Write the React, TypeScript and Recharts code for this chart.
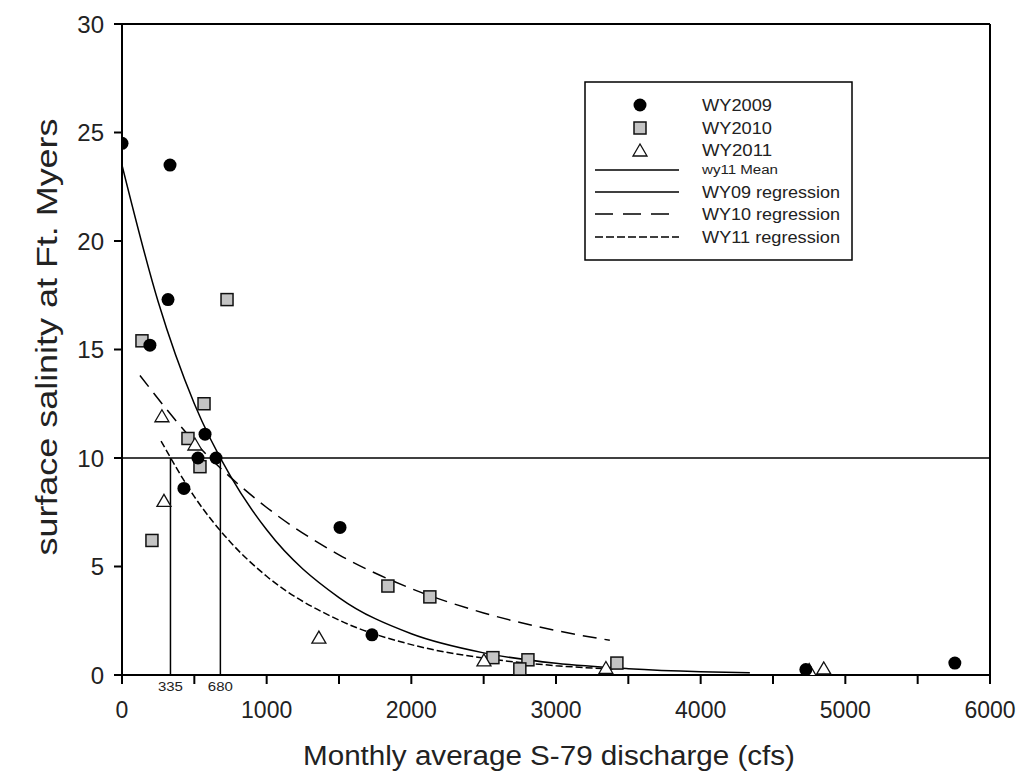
import React from "react";
import {
  ComposedChart,
  Scatter,
  Line,
  XAxis,
  YAxis,
  ReferenceLine,
  ReferenceDot,
  Label,
} from "recharts";

// observed monthly points
const wy2009 = [
  { x: 0, y: 24.5 },
  { x: 332, y: 23.5 },
  { x: 318, y: 17.3 },
  { x: 193, y: 15.2 },
  { x: 574, y: 11.1 },
  { x: 650, y: 10.0 },
  { x: 525, y: 10.0 },
  { x: 428, y: 8.6 },
  { x: 1507, y: 6.8 },
  { x: 1728, y: 1.85 },
  { x: 4727, y: 0.25 },
  { x: 5757, y: 0.55 },
];

const wy2010 = [
  { x: 138, y: 15.4 },
  { x: 726, y: 17.3 },
  { x: 567, y: 12.5 },
  { x: 456, y: 10.9 },
  { x: 539, y: 9.6 },
  { x: 207, y: 6.2 },
  { x: 1838, y: 4.1 },
  { x: 2128, y: 3.6 },
  { x: 2564, y: 0.8 },
  { x: 2806, y: 0.7 },
  { x: 2750, y: 0.28 },
  { x: 3421, y: 0.55 },
];

const wy2011 = [
  { x: 276, y: 11.9 },
  { x: 290, y: 8.0 },
  { x: 504, y: 10.6 },
  { x: 1361, y: 1.7 },
  { x: 2502, y: 0.65 },
  { x: 3345, y: 0.3 },
  { x: 4750, y: 0.2 },
  { x: 4851, y: 0.28 },
];

// regression curves
const wy09Reg = [
  { x: 0, y: 23.5 },
  { x: 250, y: 17.2 },
  { x: 500, y: 12.5 },
  { x: 750, y: 9.16 },
  { x: 1000, y: 6.69 },
  { x: 1500, y: 3.57 },
  { x: 2000, y: 1.9 },
  { x: 2500, y: 1.02 },
  { x: 3000, y: 0.54 },
  { x: 3500, y: 0.29 },
  { x: 4000, y: 0.15 },
  { x: 4340, y: 0.1 },
];

const wy10Reg = [
  { x: 124, y: 13.8 },
  { x: 500, y: 10.75 },
  { x: 1000, y: 7.72 },
  { x: 1500, y: 5.54 },
  { x: 2000, y: 3.98 },
  { x: 2500, y: 2.86 },
  { x: 3000, y: 2.05 },
  { x: 3372, y: 1.6 },
];

const wy11Reg = [
  { x: 270, y: 10.78 },
  { x: 500, y: 8.22 },
  { x: 750, y: 6.12 },
  { x: 1000, y: 4.55 },
  { x: 1500, y: 2.53 },
  { x: 2000, y: 1.4 },
  { x: 2500, y: 0.78 },
  { x: 3000, y: 0.43 },
  { x: 3400, y: 0.27 },
];

const wy11Mean = 10;
const crossings = [335, 680];

const xTicks = [0, 500, 1000, 1500, 2000, 2500, 3000, 3500, 4000, 4500, 5000, 5500, 6000];
const yTicks = [0, 5, 10, 15, 20, 25, 30];

const FONT = "'Liberation Sans', Arial, sans-serif";
const TEXT = "#222";

const CircleMark = (p: any) => <circle cx={p.cx} cy={p.cy} r={6.5} fill="#000" />;
const SquareMark = (p: any) => (
  <rect x={p.cx - 6} y={p.cy - 6} width={12} height={12} fill="#c4c4c4" stroke="#111" strokeWidth={1.5} />
);
const TriangleMark = (p: any) => (
  <polygon
    points={`${p.cx},${p.cy - 7} ${p.cx - 7},${p.cy + 5} ${p.cx + 7},${p.cy + 5}`}
    fill="#fff"
    stroke="#111"
    strokeWidth={1.3}
  />
);

const legendRows = [
  { label: "WY2009", kind: "circle", len: 70 },
  { label: "WY2010", kind: "square", len: 70 },
  { label: "WY2011", kind: "triangle", len: 70 },
  { label: "wy11 Mean", kind: "solid", small: true, len: 76 },
  { label: "WY09 regression", kind: "solid", len: 138 },
  { label: "WY10 regression", kind: "long", len: 138 },
  { label: "WY11 regression", kind: "short", len: 138 },
];

const LegendBox = () => {
  const rowY = [24, 47, 69, 89, 111, 133, 156];
  return (
    <svg width={270} height={181} style={{ position: "absolute", left: 584, top: 81 }}>
      <rect x={1} y={1} width={267} height={178} fill="#fff" stroke="#000" strokeWidth={1.5} />
      {legendRows.map((r, i) => {
        const y = rowY[i];
        const cx = 56;
        let sym: React.ReactNode = null;
        if (r.kind === "circle") sym = <CircleMark cx={cx} cy={y} />;
        if (r.kind === "square") sym = <SquareMark cx={cx} cy={y} />;
        if (r.kind === "triangle") sym = <TriangleMark cx={cx} cy={y + 1} />;
        if (r.kind === "solid") sym = <line x1={11} x2={95} y1={y} y2={y} stroke="#000" strokeWidth={1.5} />;
        if (r.kind === "long")
          sym = <line x1={11} x2={95} y1={y} y2={y} stroke="#000" strokeWidth={1.5} strokeDasharray="18 10" />;
        if (r.kind === "short")
          sym = <line x1={11} x2={95} y1={y} y2={y} stroke="#000" strokeWidth={1.5} strokeDasharray="8 3" />;
        return (
          <g key={r.label}>
            {sym}
            <text
              x={118}
              y={y + (r.small ? 4 : 6)}
              fontSize={r.small ? 12 : 16}
              fontFamily={FONT}
              fill={TEXT}
              textLength={r.len}
              lengthAdjust="spacingAndGlyphs"
            >
              {r.label}
            </text>
          </g>
        );
      })}
    </svg>
  );
};

export default function App() {
  return (
    <div
      style={{
        position: "absolute",
        left: 0,
        top: 0,
        width: 1021,
        height: 782,
        background: "#fff",
        fontFamily: FONT,
      }}
    >
      <ComposedChart width={1021} height={782} margin={{ top: 24, right: 31, left: 0, bottom: 0 }}>
        <XAxis
          type="number"
          dataKey="x"
          domain={[0, 6000]}
          ticks={xTicks}
          tickFormatter={(v: number) => (v % 1000 === 0 ? String(v) : "")}
          height={107}
          tickSize={9}
          tickMargin={18}
          tick={{ fontSize: 23, fill: TEXT, fontFamily: FONT }}
          axisLine={{ stroke: "#000", strokeWidth: 2 }}
          tickLine={{ stroke: "#000", strokeWidth: 2 }}
          allowDataOverflow
        >
          <Label
            content={() => (
              <text
                x={549}
                y={765}
                textAnchor="middle"
                fontSize={27}
                fontFamily={FONT}
                fill={TEXT}
                textLength={492}
                lengthAdjust="spacingAndGlyphs"
              >
                Monthly average S-79 discharge (cfs)
              </text>
            )}
          />
        </XAxis>
        <YAxis
          type="number"
          dataKey="y"
          domain={[0, 30]}
          ticks={yTicks}
          width={122}
          tickSize={8}
          tickMargin={10}
          tick={{ fontSize: 24, fill: TEXT, fontFamily: FONT }}
          axisLine={{ stroke: "#000", strokeWidth: 2 }}
          tickLine={{ stroke: "#000", strokeWidth: 2 }}
          allowDataOverflow
        >
          <Label
            content={() => (
              <text
                x={57}
                y={337}
                transform="rotate(-90, 57, 337)"
                textAnchor="middle"
                fontSize={29}
                fontFamily={FONT}
                fill={TEXT}
                textLength={437}
                lengthAdjust="spacingAndGlyphs"
              >
                surface salinity at Ft. Myers
              </text>
            )}
          />
        </YAxis>

        <ReferenceLine y={30} stroke="#000" strokeWidth={2} />
        <ReferenceLine x={6000} stroke="#000" strokeWidth={2} />
        <ReferenceLine y={wy11Mean} stroke="#000" strokeWidth={1.5} />
        {crossings.map((c) => (
          <ReferenceLine
            key={c}
            segment={[
              { x: c, y: 0 },
              { x: c, y: wy11Mean },
            ]}
            stroke="#000"
            strokeWidth={1.5}
          />
        ))}
        {crossings.map((c) => (
          <ReferenceDot
            key={"l" + c}
            x={c}
            y={0}
            r={1}
            fill="none"
            stroke="none"
            ifOverflow="visible"
            label={{
              value: String(c),
              position: "bottom",
              offset: 6,
              fontSize: 12,
              fill: TEXT,
              fontFamily: FONT,
              textLength: 25,
              lengthAdjust: "spacingAndGlyphs",
            }}
          />
        ))}

        <Line
          data={wy09Reg}
          dataKey="y"
          type="monotone"
          stroke="#000"
          strokeWidth={1.5}
          dot={false}
          isAnimationActive={false}
        />
        <Line
          data={wy10Reg}
          dataKey="y"
          type="monotone"
          stroke="#000"
          strokeWidth={1.5}
          strokeDasharray="14 8"
          dot={false}
          isAnimationActive={false}
        />
        <Line
          data={wy11Reg}
          dataKey="y"
          type="monotone"
          stroke="#000"
          strokeWidth={1.5}
          strokeDasharray="7 3"
          dot={false}
          isAnimationActive={false}
        />

        <Scatter data={wy2010} dataKey="y" shape={SquareMark} isAnimationActive={false} />
        <Scatter data={wy2011} dataKey="y" shape={TriangleMark} isAnimationActive={false} />
        <Scatter data={wy2009} dataKey="y" shape={CircleMark} isAnimationActive={false} />
      </ComposedChart>
      <LegendBox />
    </div>
  );
}
